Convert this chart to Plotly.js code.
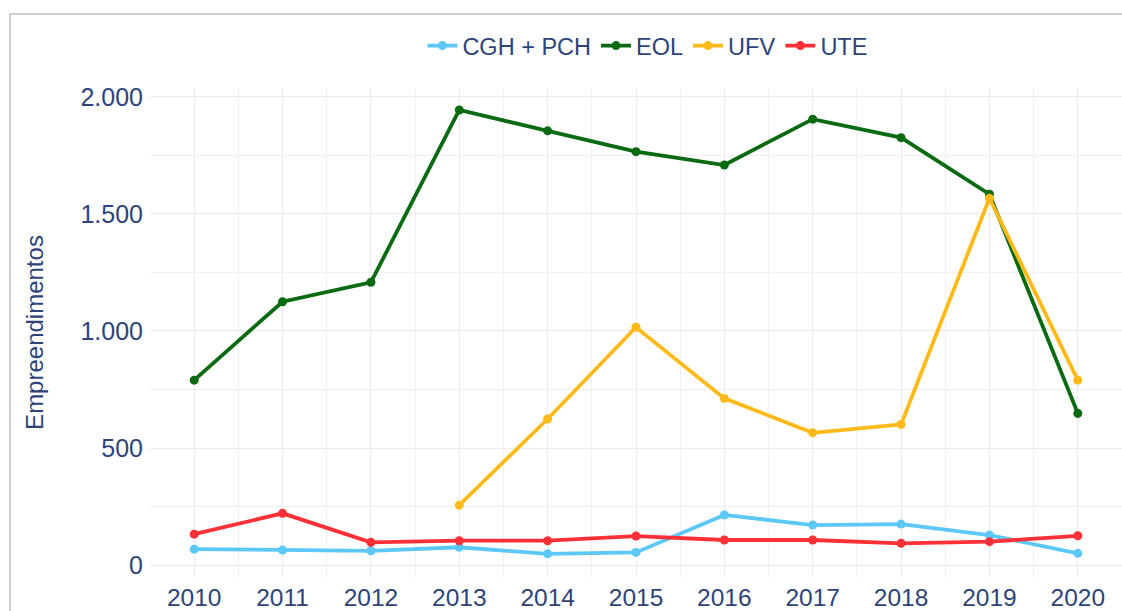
<!DOCTYPE html>
<html>
<head>
<meta charset="utf-8">
<script src="https://cdn.plot.ly/plotly-3.0.1.min.js"></script>
<style>
html,body{margin:0;padding:0;background:#fff;overflow:hidden;}
#card{position:absolute;left:9px;top:13px;width:1300px;height:800px;border-left:2px solid #cfcfcf;border-top:2px solid #cfcfcf;}
#chart{position:absolute;left:0;top:0;width:1122px;height:611px;}
</style>
</head>
<body>
<div id="card"></div>
<div id="chart"></div>
<script>
const years = [2010, 2011, 2012, 2013, 2014, 2015, 2016, 2017, 2018, 2019, 2020];
const cghPch = [68, 64, 61, 76, 48, 54, 214, 171, 175, 128, 50];
const eol = [790, 1125, 1208, 1944, 1855, 1766, 1709, 1905, 1826, 1584, 648];
const ufv = [null, null, null, 256, 624, 1016, 712, 565, 601, 1567, 790];
const ute = [132, 221, 97, 104, 104, 124, 107, 107, 93, 100, 125];
const seriesNames = ['CGH + PCH', 'EOL', 'UFV', 'UTE'];
const seriesColors = ['#5CC8F7', '#0A6A12', '#FFBA1A', '#FF3036'];
const seriesValues = [cghPch, eol, ufv, ute];
const yTitle = 'Empreendimentos';

const textColor = '#2E4478';
const traces = seriesNames.map((n, i) => ({
  type: 'scatter',
  mode: 'lines+markers',
  name: n,
  x: years,
  y: seriesValues[i],
  connectgaps: false,
  line: {color: seriesColors[i], width: 3.8},
  marker: {color: seriesColors[i], size: 9}
}));

const layout = {
  width: 1122,
  height: 611,
  margin: {l: 150, r: 0, t: 88, b: 34, pad: 0},
  paper_bgcolor: 'rgba(0,0,0,0)',
  plot_bgcolor: 'rgba(0,0,0,0)',
  separators: ',.',
  font: {family: 'Liberation Sans, Arial, sans-serif', size: 24, color: textColor},
  showlegend: true,
  legend: {
    orientation: 'h',
    xref: 'container', yref: 'container',
    x: 0.577, xanchor: 'center',
    y: 0.925, yanchor: 'middle',
    font: {size: 23.5, color: textColor},
    itemwidth: 30,
    tracegroupgap: 0
  },
  xaxis: {
    range: [2009.5, 2020.5],
    tickmode: 'array',
    tickvals: years,
    ticktext: years.map(String),
    showgrid: true,
    gridcolor: '#ebebeb',
    gridwidth: 1,
    zeroline: false,
    showline: false,
    ticks: '',
    ticklabelstandoff: 3,
    minor: {dtick: 0.5, tick0: 2009.5, showgrid: true, gridcolor: '#f0f0f0', gridwidth: 1},
    tickfont: {size: 24.5, color: textColor}
  },
  yaxis: {
    range: [-51, 2038],
    tickmode: 'linear',
    tick0: 0,
    dtick: 500,
    tickformat: ',d',
    showgrid: true,
    gridcolor: '#ebebeb',
    gridwidth: 1,
    zeroline: false,
    showline: false,
    ticks: '',
    ticklabelstandoff: 6,
    minor: {dtick: 250, tick0: 0, showgrid: true, gridcolor: '#f0f0f0', gridwidth: 1},
    tickfont: {size: 25, color: textColor},
    title: {text: yTitle, font: {size: 24, color: textColor}, standoff: 30}
  }
};

Plotly.newPlot('chart', traces, layout, {displayModeBar: false, staticPlot: true});
</script>
</body>
</html>
